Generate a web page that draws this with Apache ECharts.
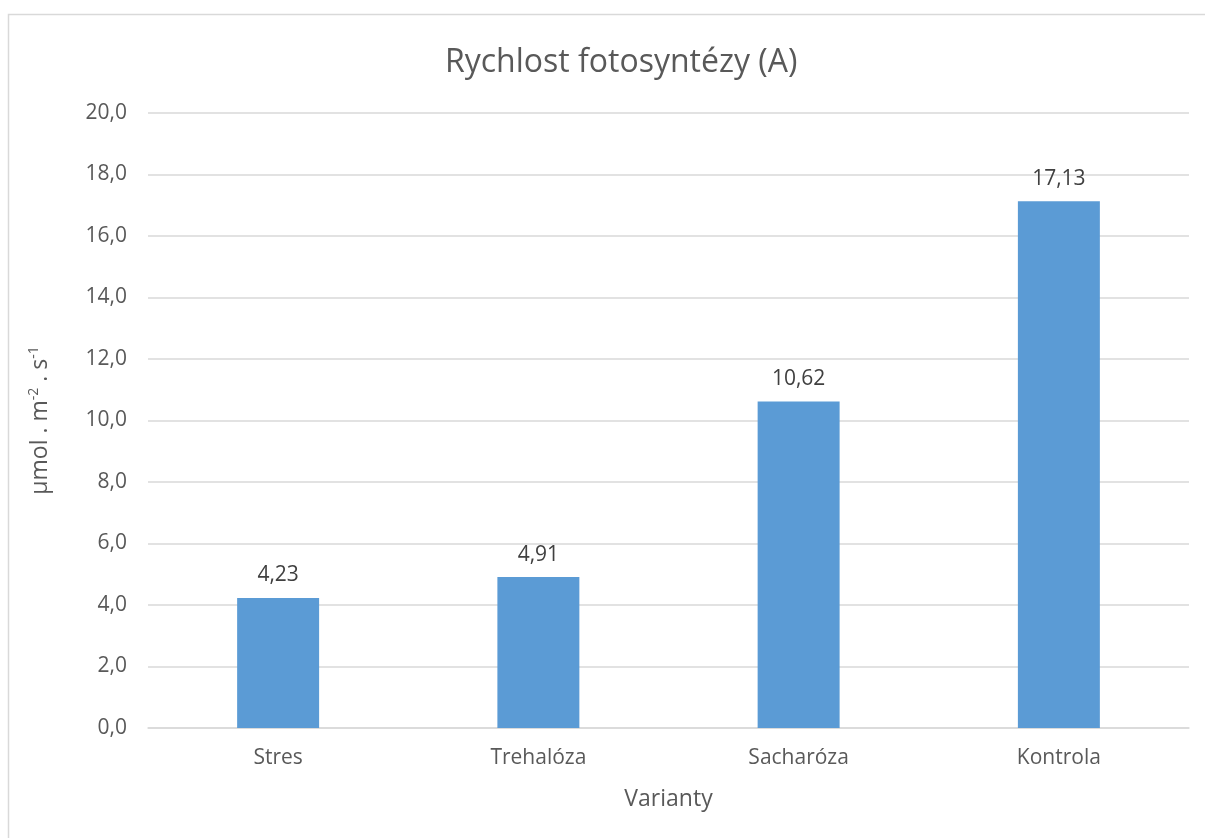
<!DOCTYPE html>
<html><head><meta charset="utf-8">
<script src="https://cdn.jsdelivr.net/npm/echarts@6/dist/echarts.min.js"></script>
<style>html,body{margin:0;padding:0;background:#fff}#c{width:1205px;height:838px}</style>
</head><body><div id="c"></div>
<script>
var categories = ['Stres', 'Trehalóza', 'Sacharóza', 'Kontrola'];
var values = [4.23, 4.91, 10.62, 17.13];
var valueLabels = ['4,23', '4,91', '10,62', '17,13'];
var chart = echarts.init(document.getElementById('c'));
var font = '"Open Sans", "Liberation Sans", sans-serif';
chart.setOption({
  animation: false,
  textStyle: {fontFamily: font},
  graphic: [{type: 'rect', shape: {x: 8.5, y: 14.5, width: 1300, height: 900}, style: {fill: 'none', stroke: '#d9d9d9', lineWidth: 1.5}, silent: true}],
  title: {text: 'Rychlost fotosyntézy (A)', left: 440, top: 42, textStyle: {fontFamily: font, fontSize: 32, fontWeight: 'normal', color: '#595959'}},
  grid: {left: 148, right: 16, top: 113, bottom: 110},
  xAxis: {
    type: 'category', data: categories,
    name: 'Varianty', nameLocation: 'middle', nameGap: 60,
    nameTextStyle: {fontSize: 23, color: '#595959', fontFamily: font},
    axisTick: {show: false},
    axisLine: {lineStyle: {color: '#d9d9d9', width: 1.5}},
    axisLabel: {fontSize: 21, color: '#595959', margin: 20, fontFamily: font}
  },
  yAxis: {
    type: 'value', min: 0, max: 20, interval: 2,
    name: '{a|μmol . m}{s|-2}{a| . s}{s|-1}', nameLocation: 'middle', nameGap: 95, nameRotate: 90,
    nameTextStyle: {rich: {a: {fontSize: 23, color: '#595959', fontFamily: font}, s: {fontSize: 14, color: '#595959', fontFamily: font, verticalAlign: 'top', padding: [0,0,12,0]}}},
    axisLine: {show: false}, axisTick: {show: false},
    axisLabel: {fontSize: 21, color: '#595959', margin: 21, fontFamily: font, formatter: function(v){return v.toFixed(1).replace('.', ',');}},
    splitLine: {lineStyle: {color: '#d9d9d9', width: 1.5}}
  },
  series: [{
    type: 'bar', data: values, barWidth: '31.5%',
    itemStyle: {color: '#5B9BD5'},
    label: {show: true, position: 'top', distance: 12, fontSize: 21, color: '#404040', fontFamily: font,
      formatter: function(p){return valueLabels[p.dataIndex];}}
  }]
});
</script></body></html>
